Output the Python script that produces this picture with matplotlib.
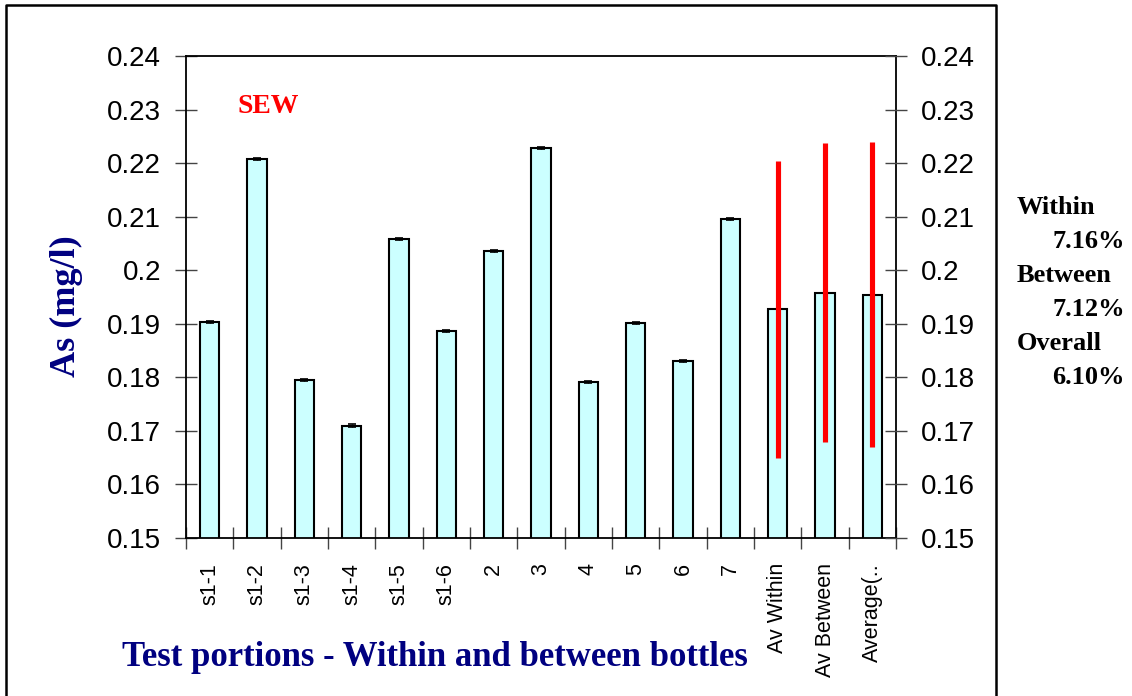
import numpy as np
import matplotlib.pyplot as plt
from matplotlib.lines import Line2D

# category labels along x
labels = ["s1-1", "s1-2", "s1-3", "s1-4", "s1-5", "s1-6", "2", "3", "4", "5",
          "6", "7", "Av Within", "Av Between", "Average(.."]
# As concentration (mg/l)
values = [0.1903, 0.2207, 0.1795, 0.1710, 0.2059, 0.1887, 0.2036, 0.2228,
          0.1791, 0.1901, 0.1831, 0.2096, 0.1927, 0.1958, 0.1954]
# small replicate error bars (first 12) and spread of the averages (last 3)
small_err = [0.0002] * 12
avg_err = [0.0277, 0.0279, 0.0285]

side_text = [("Within", "7.16%"), ("Between", "7.12%"), ("Overall", "6.10%")]

serif = "Liberation Serif"
sans = "Liberation Sans"

fig = plt.figure(figsize=(11.32, 6.96), dpi=100)
ax = fig.add_axes([186 / 1132, 1 - 538 / 696, 710 / 1132, 482 / 696])

x = np.arange(len(values))
ax.bar(x, values, width=0.41, color="#CCFFFF", edgecolor="black",
       linewidth=1.5, zorder=2)
ax.errorbar(x[:12], values[:12], yerr=small_err, fmt="none", ecolor="black",
            elinewidth=1, capsize=3, capthick=1.2, zorder=3)
ax.errorbar(x[12:], values[12:], yerr=avg_err, fmt="none", ecolor="#FF0000",
            elinewidth=3.7, capsize=0, zorder=4)

ax.set_xlim(-0.5, len(values) - 0.5)
ax.set_ylim(0.15, 0.24)
yt = np.round(np.arange(0.15, 0.2401, 0.01), 2)
ylab = [f"{v:g}" for v in yt]
ax.set_yticks(yt)
ax.set_yticklabels(ylab, fontsize=20, family=sans)
ax.tick_params(axis="y", direction="inout", length=16, width=1, color="#444444",
               pad=10)

ax.set_xticks(x)
ax.set_xticklabels(labels, rotation=90, fontsize=15.5, family=sans, va="top")
ax.tick_params(axis="x", which="major", length=0, pad=18)
ax.set_xticks(np.arange(-0.5, len(values)), minor=True)
ax.tick_params(axis="x", which="minor", direction="inout", length=16, width=1,
               color="#444444")

for s in ax.spines.values():
    s.set_linewidth(1.3)
    s.set_color("black")

ax2 = ax.twinx()
ax2.set_ylim(ax.get_ylim())
ax2.set_yticks(yt)
ax2.set_yticklabels(ylab, fontsize=20, family=sans)
ax2.tick_params(axis="y", direction="inout", length=16, width=1, color="#444444",
                pad=10)
for s in ax2.spines.values():
    s.set_visible(False)

ax.text(0.072, 0.895, "SEW", transform=ax.transAxes, color="#FF0000",
        fontsize=20, family=serif, fontweight="bold", va="center", ha="left")

fig.text(66 / 1132, 1 - 306 / 696, "As (mg/l)", rotation=90, color="#000080",
         fontsize=26, family=serif, fontweight="bold", ha="center", va="center")
fig.text(435 / 1132, 1 - 657 / 696, "Test portions - Within and between bottles",
         color="#000080", fontsize=25, family=serif, fontweight="bold",
         ha="center", va="center")

y0 = 207
for name, pct in side_text:
    fig.text(1017 / 1132, 1 - y0 / 696, name, fontsize=19, family=serif,
             fontweight="bold", ha="left", va="center")
    fig.text(1125 / 1132, 1 - (y0 + 34) / 696, pct, fontsize=19, family=serif,
             fontweight="bold", ha="right", va="center")
    y0 += 68

# outer chart frame
fx = [6 / 1132, 6 / 1132, 996 / 1132, 996 / 1132]
fy = [0, 1 - 5 / 696, 1 - 5 / 696, 0]
fig.add_artist(Line2D(fx, fy, color="black", linewidth=1.8,
                      transform=fig.transFigure))

fig.savefig("out.png", dpi=100)
